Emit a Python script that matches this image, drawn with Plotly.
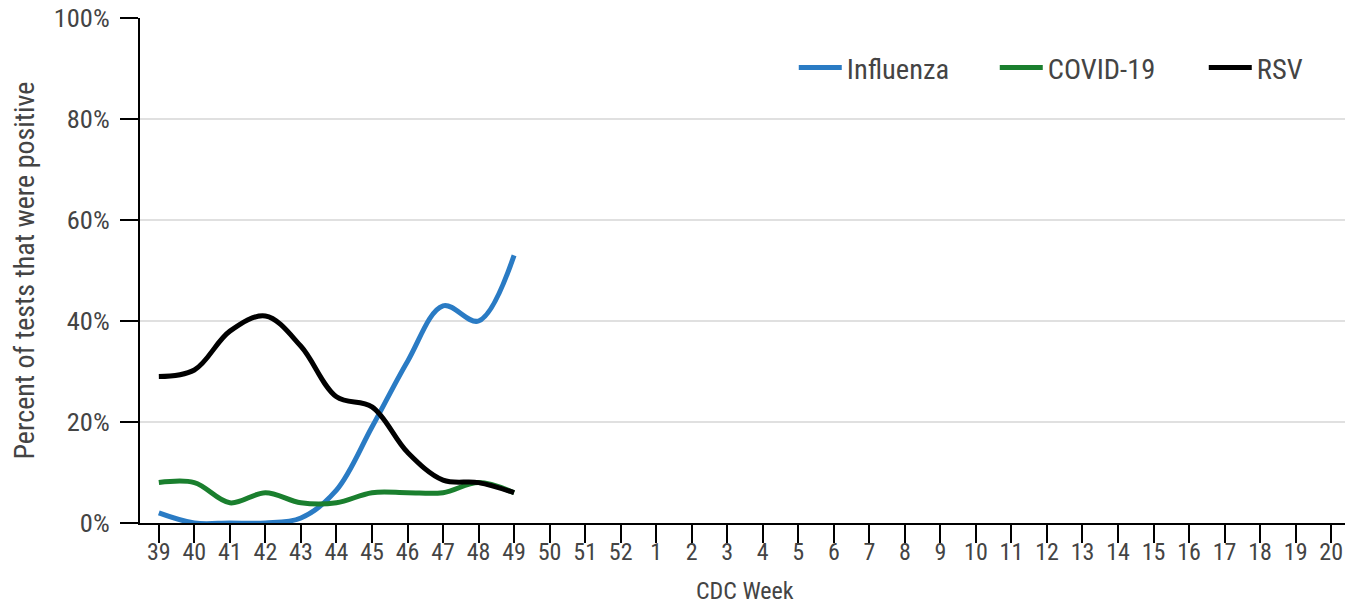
import plotly.graph_objects as go

weeks = [str(w) for w in list(range(39, 53)) + list(range(1, 21))]
data_weeks = [str(w) for w in range(39, 50)]
influenza = [2, 0, 0, 0, 1, 6.5, 19, 32, 43, 40, 53]
covid = [8, 8, 4, 6, 4, 4, 6, 6, 6, 8, 6]
rsv = [29, 30.3, 38, 41, 35, 25, 23, 14, 8.5, 8, 6]
y_ticks = [0, 20, 40, 60, 80, 100]
y_labels = ["0%", "20%", "40%", "60%", "80%", "100%"]

font_family = "Roboto Condensed, Liberation Sans Narrow, Roboto, sans-serif"
text_color = "#444444"

fig = go.Figure()
for name, vals, color, lw in [("Influenza", influenza, "#2a7bc4", 143),
                              ("COVID-19", covid, "#1a7f2e", 151),
                              ("RSV", rsv, "#000000", 60)]:
    fig.add_trace(go.Scatter(x=data_weeks, y=vals, name=name, mode="lines", legendwidth=lw,
                             line=dict(color=color, width=5, shape="spline", smoothing=1)))

fig.update_layout(
    width=1345, height=597,
    margin=dict(l=132, r=3, t=10, b=82),
    plot_bgcolor="white", paper_bgcolor="white",
    font=dict(family=font_family, size=24, color=text_color),
    showlegend=True,
    legend=dict(orientation="h", x=0.5403, xanchor="left", y=0.901, yanchor="middle",
                font=dict(size=28.5, color=text_color), traceorder="normal",
                itemwidth=43, bgcolor="rgba(0,0,0,0)"),
    xaxis=dict(type="category", categoryorder="array", categoryarray=weeks,
               range=[-0.53, 33.53], showline=True, linecolor="black", linewidth=2,
               ticks="outside", ticklen=18, tickwidth=2, tickcolor="black",
               showgrid=False, automargin=False, ticklabelstandoff=-12,
               ticklabeloverflow="allow",
               tickfont=dict(size=24, color=text_color)),
    yaxis=dict(range=[0, 100], tickvals=y_ticks, ticktext=y_labels,
               showline=True, linecolor="black", linewidth=2,
               ticks="outside", ticklen=18, tickwidth=2, tickcolor="black",
               showgrid=True, gridcolor="#e0e0e0", gridwidth=1.5, zeroline=False,
               automargin=False, ticklabelstandoff=5, ticklabeloverflow="allow",
               tickfont=dict(size=26.5, color=text_color)),
    annotations=[
        dict(text="CDC Week", xref="paper", yref="paper", x=0.5, y=0, xanchor="center",
             yanchor="middle", yshift=-68, showarrow=False,
             font=dict(size=24, color=text_color)),
        dict(text="Percent of tests that were positive", xref="paper", yref="paper",
             x=0, y=0.5, xanchor="center", yanchor="middle", xshift=-116, textangle=-90,
             showarrow=False, font=dict(size=28, color=text_color)),
    ],
)
fig.write_html("out.html")
